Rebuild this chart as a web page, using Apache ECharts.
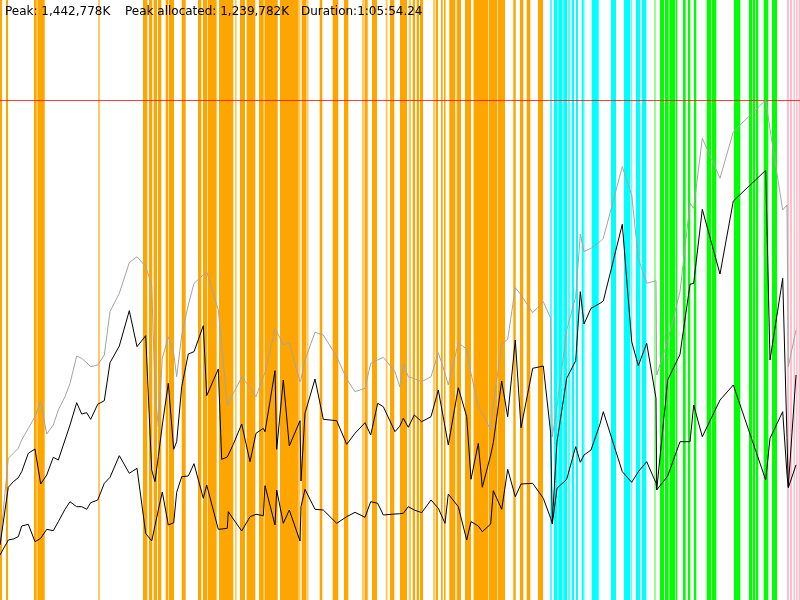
<!DOCTYPE html>
<html>
<head>
<meta charset="utf-8">
<script src="https://cdn.jsdelivr.net/npm/echarts@6/dist/echarts.min.js"></script>
<style>
html,body{margin:0;padding:0;background:#fff;}
#chart{width:800px;height:600px;}
</style>
</head>
<body>
<div id="chart"></div>
<script>
// Sample times (chart time units) and memory levels (scaled units; peak heap = 500)
const timeStamps = [0, 8.3, 13.3, 18.3, 21.7, 28.3, 35, 40.7, 46.7, 53.3, 58.3, 65, 70, 76.7, 81.7, 86.7, 90.7, 97.7, 104.3, 110, 119.3, 129.3, 137, 145.7, 151.7, 155, 158.3, 162.3, 168.3, 173.7, 176.7, 181.7, 188.3, 194,
  203.3, 206.7, 218.3, 221.7, 227.3, 228.3, 233.3, 241.7, 248.3, 250, 256, 263.3, 265, 275, 276.7, 283.3, 289.3, 300, 301, 305, 315, 323.3, 336.7, 346.7, 355, 365, 370.7, 377.7, 383.3, 395, 399.7,
  403.3, 408.3, 414.3, 421.7, 431, 438.3, 445, 448.3, 458.3, 466.7, 471, 478.3, 482.3, 490.7, 493.3, 501.7, 507.7, 515.3, 521, 532.7, 543.3, 550.7, 552.3, 557, 566.7, 575.7, 580.3, 584, 591, 600,
  603.3, 622.3, 631.7, 638.3, 646.7, 656, 656.7, 667.7, 680, 690, 693.7, 702.3, 720, 733.3, 765.7, 770, 782.7, 787, 788.3, 796];

const heapSize = [55, 141.7, 146.7, 151.7, 160, 171.7, 183.3, 198.7, 166, 175, 190, 203.3, 216.7, 244, 241.7, 237.3, 233.3, 235, 245, 288.3, 306.7, 337.3, 343.3, 333.3, 315, 210, 173.3, 241.7, 263.3, 246.7, 223.3, 265, 295, 316.7,
  325, 328.3, 290, 254.7, 194.3, 196, 206.7, 222.7, 215, 213, 203.3, 223.3, 227.3, 271, 268.7, 255, 257.3, 218.3, 220.7, 240, 267.7, 265, 243.3, 221, 208.3, 211.7, 236.7, 240, 242.7, 228.3, 213.3,
  236, 223.3, 221.3, 218.3, 223.3, 247.3, 226.7, 215, 257.3, 250.7, 226.7, 193.3, 186.7, 170, 194.7, 256, 260.7, 312.3, 305, 287.3, 298.3, 281.7, 163.3, 193.3, 270, 303.3, 366, 348.3, 351.7, 358.3,
  361.7, 433.3, 405, 341.7, 316.7, 319.3, 225, 259, 308.3, 396.7, 391.7, 461.7, 421.7, 468.3, 500, 471, 390, 395, 233.3, 270];

const allocated = [55, 112.7, 118.3, 122.3, 128.3, 146.7, 151, 116, 125, 142.7, 140, 160, 175, 197.3, 186, 187.3, 180.7, 195.7, 199.3, 237.3, 254, 289.3, 253.3, 264.3, 130, 118.3, 143.3, 175, 216.7, 150.7, 158.3, 213.3, 246, 248.3,
  274.3, 204.3, 231, 140.7, 143, 143.3, 155.7, 176, 146, 138.3, 166.7, 171.7, 168.3, 229.3, 150.7, 220, 154, 179.3, 119, 186.7, 221, 180.7, 179.3, 155.7, 166.7, 177.3, 165, 196.7, 193.3, 168.3, 173.7,
  181.7, 172.7, 185, 178.3, 183.3, 210, 173.3, 155, 212.3, 183.3, 120.7, 156.7, 112.7, 145, 157.3, 219, 183.3, 260, 172.3, 231.7, 234, 166.7, 78.3, 158.3, 221.7, 239.3, 308.3, 276, 291.7, 296.7,
  299, 375.7, 258.3, 234.3, 256.7, 201.7, 110, 220, 245.7, 315.7, 316.7, 390.7, 326, 399, 429.7, 240, 321.7, 162.3, 113.3, 225];

const liveAfterGc = [45, 60, 61, 63.3, 74, 75.7, 58.3, 61.7, 70.7, 69.3, 78.3, 90.7, 98.3, 93.3, 93.3, 90.7, 97.3, 100, 116.7, 122.7, 144.3, 126.7, 131.7, 66.7, 59, 74.3, 90, 108, 75, 77.3, 107.7, 123.3, 124, 136.3,
  101.7, 115, 70.7, 71, 71.7, 88.3, 81, 69, 80.3, 83.3, 85.7, 84.3, 114.3, 75, 110, 76.7, 90, 59, 93.3, 110.7, 90.7, 90, 76.7, 83.3, 87.7, 82.7, 98.3, 96.7, 85, 86, 86.3,
  86.7, 93.3, 90, 87.3, 100, 91.7, 76.7, 106, 93.3, 60, 78.3, 74, 68.3, 76, 109.3, 90.7, 130.7, 103.3, 116, 116.7, 101.7, 81.7, 76, 111.7, 120.7, 153.3, 137.7, 145, 150, 176,
  188.3, 128.3, 117.7, 128.3, 138.3, 117, 110, 124, 158.3, 158.3, 195, 163.3, 200, 215, 120, 161.7, 188.3, 125.7, 112.3, 135];

const peakLevel = 500;
const timeMax = 800;
const levelMax = 600;

// Collector activity intervals [start, end] in chart time units
const orangeBands = [[0,2],[6,8],[34,36.7],[37.3,44.7],[143,147.3],[149,152.3],[153.7,157],[158,161.3],[165.7,168.3],[169,174],[181.7,185.7],[198,201.3],
  [203,207.3],[208,216.7],[219,233.3],[240,245],[246.7,255.3],[259,263.7],[264.5,277.7],[280,298.5],[301.7,306.5],[319.7,322.3],[332.7,338.3],[344,348.3],[364.7,367.7],[372,377],[390,394.3],
  [400,407],[412.7,415],[416.7,419],[420,423],[435.7,438],[441,442.7],[444,445.5],[449.3,455.3],[456.7,461],[465,471],[473.5,488],[488.6,497],[497.6,505],[513.3,515.7],[520,523.3],[526.7,530.3],[538,543]];
const orangeFaint = [[98,100],[235,236.7],[298.5,300.5],[307,308.5],[362,364.3],[385.7,387.7],[408.7,411],[433,435]];
const cyanBands = [[550.3,551.7],[554,557.5],[558.3,562.5],[563.3,567],[568.3,569.7],[571.7,574],[576,578],[581.7,583.7],[591.7,598.7],[611,616],[624,630.3],[636,640.3],[642,646.3]];
const cyanFaint = [[631,632.3],[583.7,584.7]];
const greenBands = [[660,664],[665,668.7],[669.5,675.3],[676,677.3],[683,685.7],[688,690.3],[694,696.3],[706.7,711],[711.7,716.3],[734,740.3],[749,752],[752.7,755.3],[756,758.3],[763.7,768.3],[772,777]];
const greenFaint = [[654.3,655.7]];
const pinkBands = [[787,789],[790,792],[793.5,795],[796,797.5],[798.5,800]];

const headerTexts = ['Peak: 1,442,778K', 'Peak allocated: 1,239,782K', 'Duration:1:05:54.24'];

function pairs(ys) { return timeStamps.map((t, i) => [t, ys[i]]); }

function bandSeries(data, color, opacity) {
  return {
    type: 'custom',
    silent: true,
    animation: false,
    z: 1,
    data: data,
    encode: { x: [0, 1] },
    renderItem: function (params, api) {
      const a = api.coord([api.value(0), 0]);
      const b = api.coord([api.value(1), levelMax]);
      return {
        type: 'rect',
        shape: { x: a[0], y: b[1], width: Math.max(b[0] - a[0], 1), height: a[1] - b[1] },
        style: { fill: color, opacity: opacity }
      };
    }
  };
}

function lineSeries(data, color, z) {
  return {
    type: 'line',
    data: data,
    symbol: 'none',
    showSymbol: false,
    silent: true,
    animation: false,
    z: z,
    lineStyle: { color: color, width: 1 }
  };
}

const chart = echarts.init(document.getElementById('chart'), null, { renderer: 'canvas' });
const heapLine = lineSeries(pairs(heapSize), '#a4a4a4', 5);
heapLine.markLine = {
  silent: true,
  symbol: ['none', 'none'],
  animation: false,
  label: { show: false },
  lineStyle: { color: 'rgba(255,0,0,0.75)', width: 1, type: 'solid' },
  data: [{ yAxis: peakLevel }]
};

const headerLeft = [5, 125, 301];

chart.setOption({
  animation: false,
  backgroundColor: '#ffffff',
  graphic: headerTexts.map((t, i) => ({
    type: 'text',
    left: headerLeft[i],
    top: 6,
    z: 100,
    silent: true,
    style: { text: t, fontFamily: 'DejaVu Sans', fontSize: 12, fill: '#000' }
  })),
  grid: { left: 0, right: 0, top: 0, bottom: 0 },
  xAxis: { type: 'value', min: 0, max: timeMax, show: false },
  yAxis: { type: 'value', min: 0, max: levelMax, show: false },
  series: [
    bandSeries(orangeBands, '#ffa500', 1),
    bandSeries(orangeFaint, '#ffa500', 0.6),
    bandSeries(cyanBands, '#00ffff', 1),
    bandSeries(cyanFaint, '#00ffff', 0.6),
    bandSeries(greenBands, '#00ff00', 1),
    bandSeries(greenFaint, '#00ff00', 0.6),
    bandSeries(pinkBands, '#ffc0cb', 1),
    heapLine,
    lineSeries(pairs(allocated), '#000000', 6),
    lineSeries(pairs(liveAfterGc), '#000000', 6)
  ]
});
</script>
</body>
</html>
